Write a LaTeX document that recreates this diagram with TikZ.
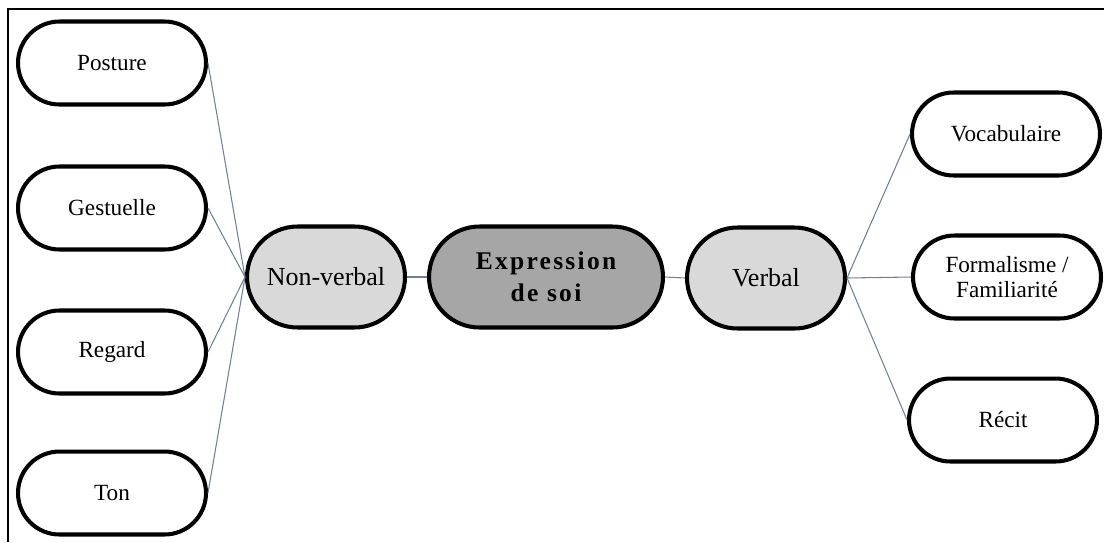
\documentclass[tikz,border=0pt]{standalone}
\usepackage{fontspec}
\setmainfont{Liberation Serif}
\newfontfamily\spacedbold[LetterSpace=9]{Liberation Serif}
\definecolor{linkcol}{rgb}{0.45,0.50,0.58}
\definecolor{midfill}{HTML}{D9D9D9}
\definecolor{corefill}{HTML}{A6A6A6}
\begin{document}
\begin{tikzpicture}[x=0.02cm,y=-0.02cm,
  pill/.style={draw=black,line width=2.3pt,rectangle,inner sep=0pt,align=center},
  leaf/.style={pill,fill=white,minimum width=3.76cm,minimum height=1.66cm,
    rounded corners=0.83cm,font=\fontsize{13.2}{14.2}\selectfont},
  branch/.style={pill,fill=midfill,minimum width=3.16cm,minimum height=2.02cm,
    rounded corners=1.01cm,font=\fontsize{14.8}{17}\selectfont},
  core/.style={pill,fill=corefill,minimum width=4.68cm,minimum height=2.02cm,
    rounded corners=1.01cm,font=\spacedbold\bfseries\fontsize{14.5}{16.5}\selectfont},
  link/.style={draw=linkcol,line width=0.6pt}]
\useasboundingbox (0,0) rectangle (1104,542);
% frame
\draw[line width=0.8pt] (8,542) -- (8,9) -- (1104,9);
% nodes
\node[leaf] (posture) at (112,63) {Posture};
\node[leaf] (gest) at (112,208) {Gestuelle};
\node[leaf] (regard) at (112,352) {Regard};
\node[leaf] (ton) at (112,493) {Ton};
\node[branch] (nv) at (326,277) {Non-verbal};
\node[core] (expr) at (546,277) {Expression\\[1.5pt]de soi};
\node[branch] (verb) at (766,278) {Verbal};
\node[leaf] (voc) at (1006,134) {Vocabulaire};
\node[leaf] (form) at (1007,277) {Formalisme /\\Familiarité};
\node[leaf] (recit) at (1003,420) {Récit};
% links
\foreach \n in {posture,gest,regard,ton}
  \draw[link] (\n.east) -- (nv.west);
\draw[link] (nv.east) -- (expr.west);
\draw[link] (expr.east) -- (verb.west);
\foreach \n in {voc,form,recit}
  \draw[link] (verb.east) -- (\n.west);
\end{tikzpicture}
\end{document}
